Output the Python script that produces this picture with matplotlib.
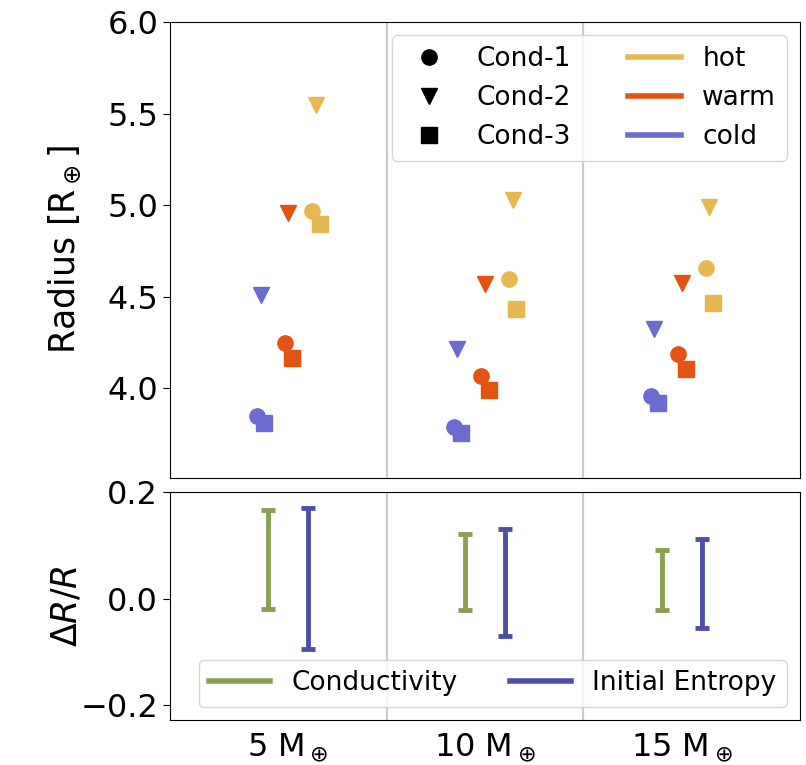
import numpy as np
import matplotlib
matplotlib.use("Agg")
import matplotlib.pyplot as plt
from matplotlib.lines import Line2D

# planet masses (M_earth) and the two groupings used in the plot
masses = [5, 10, 15]
mass_labels = ['5 M$_\\oplus$', '10 M$_\\oplus$', '15 M$_\\oplus$']
temps = ['hot', 'warm', 'cold']
conds = ['Cond-1', 'Cond-2', 'Cond-3']

# radius [R_earth], one row per mass, columns Cond-1, Cond-2, Cond-3
radius_hot = [[4.968, 5.548, 4.899],
              [4.598, 5.030, 4.434],
              [4.658, 4.990, 4.467]]
radius_warm = [[4.245, 4.957, 4.167],
               [4.067, 4.571, 3.989],
               [4.185, 4.576, 4.104]]
radius_cold = [[3.846, 4.508, 3.808],
               [3.791, 4.213, 3.753],
               [3.958, 4.322, 3.918]]

# relative spread dR/R for each mass
cond_lo = [-0.019, -0.021, -0.021]
cond_hi = [0.166, 0.122, 0.091]
ent_lo = [-0.095, -0.071, -0.056]
ent_hi = [0.170, 0.130, 0.112]

temp_colors = {'hot': '#E8B850', 'warm': '#E35412', 'cold': '#6B6BD0'}
temp_shift = {'hot': 0.7, 'warm': 0.0, 'cold': -0.7}
cond_markers = ['o', 'v', 's']
cond_shift = [-0.09, 0.0, 0.1]
c_cond = '#8A9F52'
c_ent = '#4D4FA5'

fs_tick = 23
fs_label = 25
fs_leg = 19

fig = plt.figure(figsize=(8.06, 7.65), dpi=100)
ax1 = fig.add_axes([0.2109, 0.3752, 0.7816, 0.596])
ax2 = fig.add_axes([0.2109, 0.0588, 0.7816, 0.2981])

radii = {'hot': radius_hot, 'warm': radius_warm, 'cold': radius_cold}
for t in ['cold', 'warm', 'hot']:
    for i, m in enumerate(masses):
        for j in range(3):
            ax1.plot(m + temp_shift[t] + cond_shift[j], radii[t][i][j],
                     marker=cond_markers[j], ms=11, ls='none',
                     color=temp_colors[t], mec=temp_colors[t], zorder=3)

for ax in (ax1, ax2):
    ax.axvline(7.5, color='#cccccc', lw=1.6, zorder=0)
    ax.axvline(12.5, color='#cccccc', lw=1.6, zorder=0)
    ax.set_xlim(2, 18)
    ax.tick_params(axis='y', labelsize=fs_tick, length=5)

ax1.set_ylim(3.51, 6.0)
ax1.set_yticks([4.0, 4.5, 5.0, 5.5, 6.0])
ax1.set_xticks([])
ax1.set_ylabel('Radius [R$_\\oplus$]', fontsize=fs_label)

handles = []
for j in range(3):
    handles.append(Line2D([], [], marker=cond_markers[j], ls='none', color='k', ms=11))
for t in temps:
    handles.append(Line2D([], [], color=temp_colors[t], lw=4))
ax1.legend(handles, conds + temps, ncol=2, loc='upper right', fontsize=fs_leg,
           columnspacing=2.2)

# spread bars: mid point with symmetric half-range
m = np.array(masses, dtype=float)
mid_c = (np.array(cond_hi) + np.array(cond_lo)) / 2
err_c = (np.array(cond_hi) - np.array(cond_lo)) / 2
mid_e = (np.array(ent_hi) + np.array(ent_lo)) / 2
err_e = (np.array(ent_hi) - np.array(ent_lo)) / 2
ax2.errorbar(m - 0.5, mid_c, yerr=err_c, fmt='none', ecolor=c_cond,
             elinewidth=3.5, capsize=5, capthick=3.5, label='Conductivity')
ax2.errorbar(m + 0.5, mid_e, yerr=err_e, fmt='none', ecolor=c_ent,
             elinewidth=3.5, capsize=5, capthick=3.5, label='Initial Entropy')

ax2.set_ylim(-0.228, 0.2)
ax2.set_yticks([-0.2, 0.0, 0.2])
ax2.set_xticks(masses)
ax2.set_xticklabels(mass_labels, fontsize=fs_tick)
ax2.tick_params(axis='x', length=0, pad=8)
ax2.set_ylabel('$\\Delta R/R$', fontsize=fs_label)

leg_handles = [Line2D([], [], color=c_cond, lw=4), Line2D([], [], color=c_ent, lw=4)]
ax2.legend(leg_handles, ['Conductivity', 'Initial Entropy'], ncol=2,
           loc='lower right', fontsize=fs_leg, columnspacing=2.0,
           handlelength=2.3)

ax1.yaxis.set_label_coords(-0.138, 0.5)
ax2.yaxis.set_label_coords(-0.138, 0.5)

fig.savefig('out.png', dpi=100)
